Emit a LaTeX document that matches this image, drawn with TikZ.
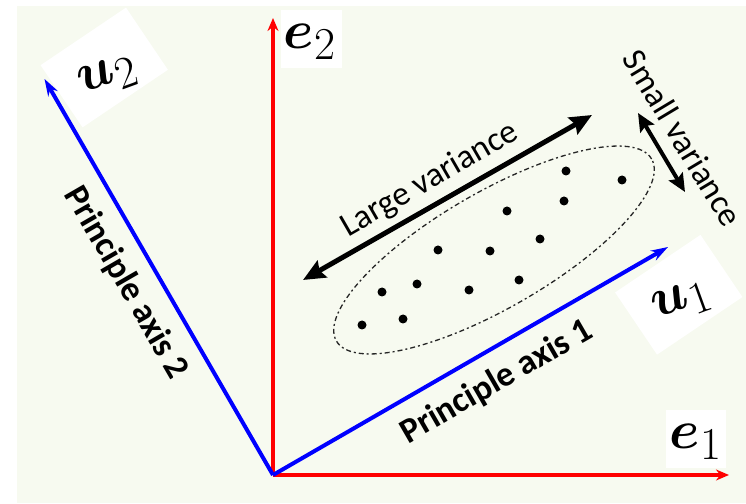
\documentclass[tikz,border=0pt]{standalone}
\usepackage{graphicx}
\usepackage{amsmath,bm}
\usepackage{fontspec}
\setmainfont{Carlito}
\usetikzlibrary{arrows.meta}
\definecolor{bgc}{RGB}{247,250,240}
\newcommand{\mathlabeltext}[1]{\scalebox{2.2}{\Huge$#1$}}
\begin{document}
\begin{tikzpicture}[x=1pt,y=1pt,
  redaxis/.style={draw=red, line width=4.5pt, -{Stealth[length=13pt,width=11pt]}},
  blueaxis/.style={draw=blue, line width=4pt, -{Stealth[length=17pt,width=11pt]}},
  bigarrow/.style={draw=black, line width=5pt, {Stealth[length=22pt,width=19pt,inset=3pt]}-{Stealth[length=22pt,width=19pt,inset=3pt]}},
  smallarrow/.style={draw=black, line width=4pt, {Stealth[length=18pt,width=16pt,inset=3pt]}-{Stealth[length=18pt,width=16pt,inset=3pt]}},
  lblbox/.style={fill=white, inner sep=0pt},
  mathlbl/.style={inner sep=0pt},
  axislbl/.style={inner sep=0pt, font=\fontsize{35}{35}\selectfont\bfseries},
  varlbl/.style={inner sep=0pt, font=\fontsize{34}{34}\selectfont},
  cloud/.style={draw=black!85, line width=1.3pt, dash pattern=on 5pt off 3pt on 2pt off 3pt},
  dot/.style={fill=black}]
\useasboundingbox (0,0) rectangle (746,503);
\fill[bgc] (17,0) rectangle (746,497);
% axes
\coordinate (O) at (273,28);
\coordinate (e1tip) at (729,28);
\coordinate (e2tip) at (273,485);
\coordinate (u1tip) at (668,256);
\coordinate (u2tip) at (44.5,424);
\draw[redaxis] (O) -- (e1tip);
\draw[redaxis] (O) -- (e2tip);
\draw[blueaxis] (O) -- (u1tip);
\draw[blueaxis] (O) -- (u2tip);
% label boxes
\node[lblbox, minimum width=61pt, minimum height=58pt] (e2box) at (311.5,464) {};
\node[mathlbl] (e2lab) at (310,461) {\mathlabeltext{\bm{e}_2}};
\node[lblbox, minimum width=60pt, minimum height=58pt] (e1box) at (696,64) {};
\node[mathlbl] (e1lab) at (696,61) {\mathlabeltext{\bm{e}_1}};
\node[lblbox, rotate=34, minimum width=103pt, minimum height=75pt] (u1box) at (678.75,208.25) {};
\node[mathlbl, rotate=20] (u1lab) at (682,201) {\mathlabeltext{\bm{u}_1}};
\node[lblbox, rotate=34, minimum width=103pt, minimum height=75pt] (u2box) at (104.25,435.5) {};
\node[mathlbl, rotate=20] (u2lab) at (108,426) {\mathlabeltext{\bm{u}_2}};
% axis texts
\node[axislbl, rotate=30] (pa1) at (497,121) {Principle axis 1};
\node[axislbl, rotate=-60] (pa2) at (126,220) {Principle axis 2};
% variance
\coordinate (lvA) at (303,223);
\coordinate (lvB) at (592,388);
\draw[bigarrow] (lvA) -- (lvB);
\node[varlbl, rotate=30] (lv) at (430,323) {Large variance};
\coordinate (svA) at (638,390);
\coordinate (svB) at (685,311);
\draw[smallarrow] (svA) -- (svB);
\node[varlbl, rotate=-59] (sv) at (683,365) {Small variance};
% data cloud
\draw[cloud, rotate around={30:(494,253)}] (494,253) ellipse [x radius=182pt, y radius=58pt];
\foreach \px/\py in {566/332, 622/323, 564/302, 507/292, 540/264, 438/253, 490/252,
  382/211, 417/219, 469/213, 519/223, 362/178, 403/184}
  \fill[dot] (\px,\py) circle (4.5pt);
\end{tikzpicture}
\end{document}
